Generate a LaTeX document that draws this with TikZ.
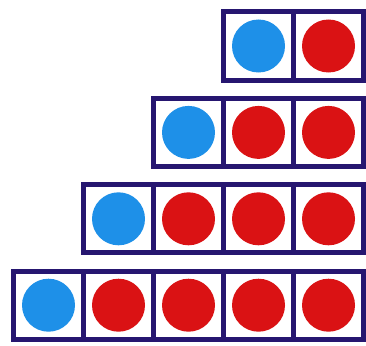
\documentclass[tikz,border=0pt]{standalone}
\usepackage{tikz}
\usetikzlibrary{positioning}
\definecolor{frame}{RGB}{38,22,112}
\definecolor{beadblue}{RGB}{30,144,232}
\definecolor{beadred}{RGB}{218,18,20}
\begin{document}
\begin{tikzpicture}[
  x=1pt,y=-1pt,
  cell/.style={draw=frame,line width=5pt,fill=white,minimum width=70pt,minimum height=68pt,inner sep=0pt,outer sep=0pt},
  bead/.style={circle,minimum size=53pt,inner sep=0pt},
  bluebead/.style={bead,fill=beadblue},
  redbead/.style={bead,fill=beadred},
  node distance=0pt,
]
  \useasboundingbox (0,0) rectangle (366,345);
  \foreach \r in {1,...,4} {
    % row \r has \r+1 cells, right edge fixed
    \pgfmathtruncatemacro{\n}{\r+1}
    \node[cell] (cell-\r-1) at ({363.5-\n*70+35},{46+86.4*(\r-1)}) {};
    \node[bluebead] (bead-\r-1) at (cell-\r-1) {};
    \foreach \k [evaluate=\k as \p using int(\k-1)] in {2,...,\n} {
      \node[cell,right=of cell-\r-\p] (cell-\r-\k) {};
      \node[redbead] (bead-\r-\k) at (cell-\r-\k) {};
    }
  }
\end{tikzpicture}
\end{document}
